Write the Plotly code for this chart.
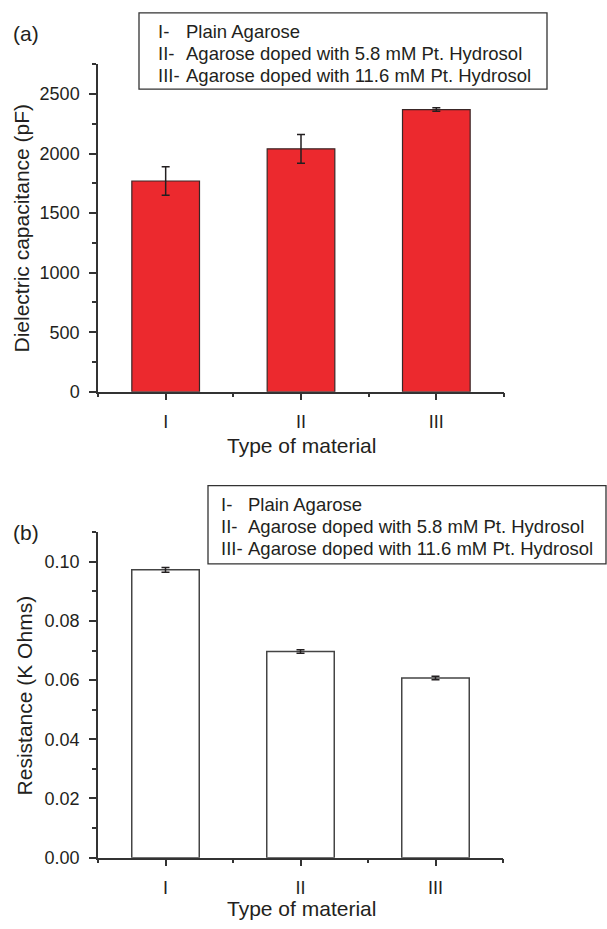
import plotly.graph_objects as go

# ---------------- data ----------------
categories = ["I", "II", "III"]
cat_pos = [1, 2, 3]
capacitance = [1770, 2040, 2370]
capacitance_err = [120, 120, 15]
resistance = [0.0973, 0.0697, 0.0607]
resistance_err = [0.0008, 0.0006, 0.0006]
legend_numerals = ["I-", "II-", "III-"]
legend_names = ["Plain Agarose",
                "Agarose doped with 5.8 mM Pt. Hydrosol",
                "Agarose doped with 11.6 mM Pt. Hydrosol"]

W, H = 607, 929


def px(x):
    return x / W


def py(y):
    return 1 - y / H


FONT = "Liberation Sans, Arial, Helvetica, sans-serif"
INK = "#231f20"
AX = "#333333"

fig = go.Figure()
fig.add_trace(go.Bar(
    x=cat_pos, y=capacitance, width=0.5,
    marker=dict(color="#EC292E", line=dict(color="#3a2626", width=1.2)),
    error_y=dict(type="data", array=capacitance_err, color=INK, thickness=1.5, width=4),
    xaxis="x", yaxis="y", showlegend=False, hoverinfo="skip"))
fig.add_trace(go.Bar(
    x=cat_pos, y=resistance, width=0.5,
    marker=dict(color="white", line=dict(color="#444444", width=1.5)),
    error_y=dict(type="data", array=resistance_err, color=INK, thickness=1.5, width=4),
    xaxis="x2", yaxis="y2", showlegend=False, hoverinfo="skip"))

common_x = dict(
    range=[0.5, 3.5], tickvals=cat_pos, ticktext=categories,
    ticks="outside", ticklen=7, tickwidth=1.5, tickcolor=AX,
    showline=True, linecolor=AX, linewidth=1.5, showgrid=False, zeroline=False,
    minor=dict(tickvals=[0.5, 1.5, 2.5, 3.5], ticks="outside", ticklen=4,
               tickwidth=1.5, tickcolor=AX, showgrid=False),
    tickfont=dict(family=FONT, size=18, color=INK), ticklabelstandoff=6,
    fixedrange=True)
common_y = dict(
    ticks="outside", ticklen=7, tickwidth=1.5, tickcolor=AX,
    showline=True, linecolor=AX, linewidth=1.5, showgrid=False, zeroline=False,
    tickfont=dict(family=FONT, size=18, color=INK), ticklabelstandoff=6,
    fixedrange=True)

fig.update_layout(
    width=W, height=H,
    margin=dict(l=0, r=0, t=0, b=0),
    paper_bgcolor="white", plot_bgcolor="white",
    bargap=0.5,
    xaxis=dict(common_x, domain=[px(98), px(504)], anchor="y"),
    yaxis=dict(common_y, domain=[py(396), py(65)], anchor="x",
               range=[0, 2750], tick0=0, dtick=500,
               minor=dict(tick0=0, dtick=250, ticks="outside", ticklen=4,
                          tickwidth=1.5, tickcolor=AX, showgrid=False)),
    xaxis2=dict(common_x, domain=[px(98), px(503)], anchor="y2"),
    yaxis2=dict(common_y, domain=[py(867), py(538)], anchor="x2",
                range=[0, 0.11], tick0=0, dtick=0.02, tickformat=".2f",
                minor=dict(tick0=0, dtick=0.01, ticks="outside", ticklen=4,
                           tickwidth=1.5, tickcolor=AX, showgrid=False)),
)

ann = []


def text(t, x, y, size=18, xanchor="left", angle=0):
    ann.append(dict(text=t, x=px(x), y=py(y), xref="paper", yref="paper",
                    xanchor=xanchor, yanchor="middle", showarrow=False,
                    textangle=angle, font=dict(family=FONT, size=size, color=INK)))


text("(a)", 11, 34, size=21)
text("(b)", 11, 538, size=21)
text("Dielectric capacitance (pF)", 22, 231, size=21, xanchor="center", angle=-90)
text("Resistance (K Ohms)", 24, 703, size=21, xanchor="center", angle=-90)
text("Type of material", 301, 450, size=21, xanchor="center")
text("Type of material", 301, 918, size=21, xanchor="center")

# legend boxes (text annotations)
boxes = [dict(x0=139, x1=547, y0=13, y1=90, tx=156, nx=184, ty=[32, 54, 76]),
         dict(x0=208, x1=606, y0=491, y1=570, tx=219, nx=246, ty=[510, 532, 554])]
shapes = []
for b in boxes:
    shapes.append(dict(type="rect", xref="paper", yref="paper",
                       x0=px(b["x0"]), x1=px(b["x1"]), y0=py(b["y1"]), y1=py(b["y0"]),
                       line=dict(color=AX, width=1.3), fillcolor="rgba(0,0,0,0)"))
    for num, name, yy in zip(legend_numerals, legend_names, b["ty"]):
        text(num, b["tx"], yy, size=18.5)
        text(name, b["nx"], yy, size=18.5)

fig.update_layout(annotations=ann, shapes=shapes)
fig.write_html("out.html")
